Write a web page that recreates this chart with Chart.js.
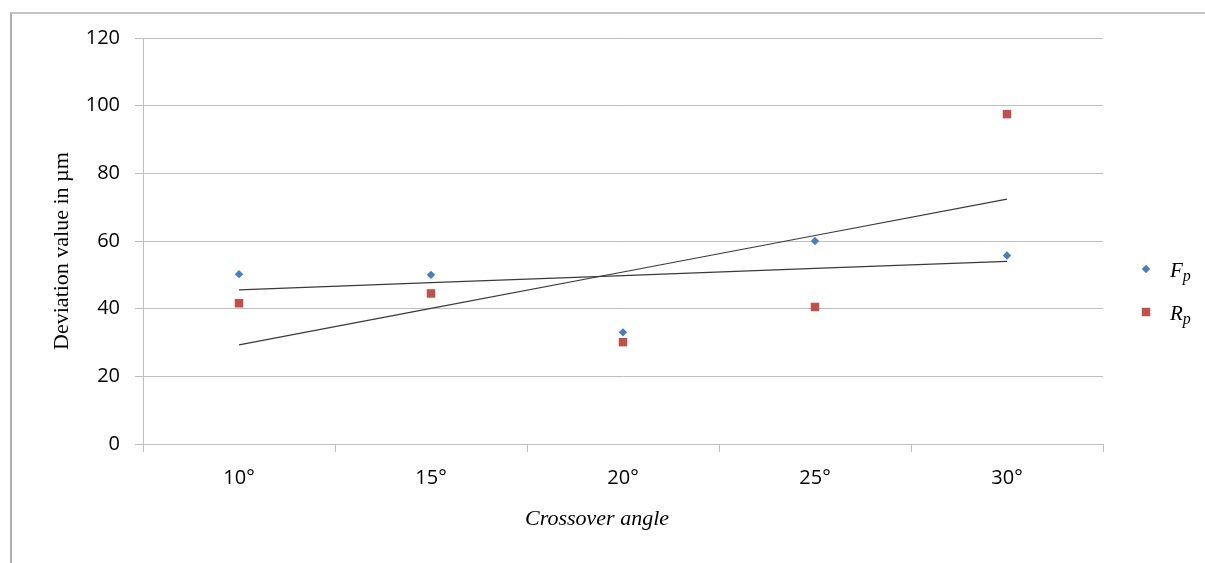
<!DOCTYPE html>
<html>
<head>
<meta charset="utf-8">
<title>Deviation vs crossover angle</title>
<script src="https://cdn.jsdelivr.net/npm/chart.js@4/dist/chart.umd.min.js"></script>
<style>
  html, body { margin: 0; padding: 0; background: #fff; }
  #wrap { position: relative; width: 1205px; height: 563px; overflow: hidden; }
  #frame {
    position: absolute; left: 10px; top: 12px; right: 0; bottom: 0;
    border-top: 2px solid #c4c4c4; border-left: 2px solid #b0b0b0;
  }
  #chart { position: absolute; left: 0; top: 0; }
</style>
</head>
<body>
<div id="wrap">
  <div id="frame"></div>
  <canvas id="chart" width="1205" height="563"></canvas>
</div>
<script>
// Crossover angle categories
const angles = ['10°', '15°', '20°', '25°', '30°'];
// Measured deviations in µm
const fpValues = [50.2, 50.0, 33.0, 60.0, 55.7];
const rpValues = [41.6, 44.5, 30.1, 40.5, 97.5];
const yTicks = [0, 20, 40, 60, 80, 100, 120];

const xTitle = 'Crossover angle';
const yTitle = 'Deviation value in µm';

const fpColor = '#4a7ebb';
const rpColor = '#c0504d';
const trendColor = '#3a3a3a';
const gridColor = '#bfbfbf';
const serif = '"Liberation Serif", "Times New Roman", serif';

// Least-squares line through the points (x = 1..n)
function linearTrend(values) {
    const n = values.length;
    let sx = 0, sy = 0, sxy = 0, sxx = 0;
    values.forEach((v, i) => {
        const x = i + 1;
        sx += x; sy += v; sxy += x * v; sxx += x * x;
    });
    const slope = (n * sxy - sx * sy) / (n * sxx - sx * sx);
    const icpt = (sy - slope * sx) / n;
    return values.map((_, i) => icpt + slope * (i + 1));
}

// Axis titles, placed like the old spreadsheet layout (slightly off-centre)
const axisTitles = {
    id: 'axisTitles',
    afterDraw(chart) {
        const ctx = chart.ctx;
        const area = chart.chartArea;
        ctx.save();
        ctx.fillStyle = '#000';
        ctx.textAlign = 'center';
        ctx.textBaseline = 'middle';

        ctx.font = 'italic 22px ' + serif;
        ctx.fillText(xTitle, (area.left + area.right) / 2 - 26, 519);

        ctx.font = '22px ' + serif;
        ctx.translate(62, (area.top + area.bottom) / 2 + 10);
        ctx.rotate(-Math.PI / 2);
        ctx.fillText(yTitle, 0, 0);
        ctx.restore();
    }
};

// Legend drawn to the right of the plot, with subscripts
const subLegend = {
    id: 'subLegend',
    afterDraw(chart) {
        const ctx = chart.ctx;
        const area = chart.chartArea;
        const x = area.right + 43;
        let y = area.top + 231;
        chart.data.datasets.forEach(ds => {
            if (!ds.legendMain) return;
            ctx.save();
            ctx.fillStyle = ds.pointBackgroundColor;
            Chart.helpers.drawPoint(ctx, {
                pointStyle: ds.pointStyle, radius: ds.pointRadius, rotation: 0, borderWidth: 0
            }, x, y);
            ctx.fillStyle = '#000';
            ctx.textBaseline = 'alphabetic';
            ctx.font = 'italic 21px ' + serif;
            ctx.fillText(ds.legendMain, x + 24, y + 8);
            const w = ctx.measureText(ds.legendMain).width;
            ctx.font = 'italic 16px ' + serif;
            ctx.fillText(ds.legendSub, x + 24 + w, y + 12);
            ctx.restore();
            y += 43;
        });
    }
};

const ctx = document.getElementById('chart').getContext('2d');
window.deviationChart = new Chart(ctx, {
    type: 'line',
    data: {
        labels: angles,
        datasets: [
            {
                label: 'Fp',
                legendMain: 'F', legendSub: 'p',
                data: fpValues,
                showLine: false,
                pointStyle: 'rectRot',
                pointRadius: 4.2,
                pointBackgroundColor: fpColor,
                pointBorderColor: fpColor,
                pointBorderWidth: 0
            },
            {
                label: 'Rp',
                legendMain: 'R', legendSub: 'p',
                data: rpValues,
                showLine: false,
                pointStyle: 'rect',
                pointRadius: 6,
                pointBackgroundColor: rpColor,
                pointBorderColor: rpColor,
                pointBorderWidth: 0
            },
            {
                label: 'Fp trend',
                data: linearTrend(fpValues),
                borderColor: trendColor,
                borderWidth: 1.2,
                pointRadius: 0,
                fill: false
            },
            {
                label: 'Rp trend',
                data: linearTrend(rpValues),
                borderColor: trendColor,
                borderWidth: 1.2,
                pointRadius: 0,
                fill: false
            }
        ]
    },
    options: {
        responsive: false,
        animation: false,
        layout: { padding: { top: 38, right: 102, bottom: 0, left: 0 } },
        plugins: {
            legend: { display: false },
            tooltip: { enabled: false }
        },
        scales: {
            x: {
                offset: true,
                grid: {
                    offset: true,
                    drawOnChartArea: false,
                    tickLength: 8,
                    color: gridColor
                },
                border: { color: gridColor },
                ticks: {
                    color: '#000',
                    padding: 14,
                    font: { family: '"Open Sans", sans-serif', size: 20 }
                },
                afterFit(scale) { scale.height = 119; }
            },
            y: {
                min: 0,
                max: 120,
                afterBuildTicks(scale) { scale.ticks = yTicks.map(v => ({ value: v })); },
                grid: { color: gridColor, tickLength: 8 },
                border: { color: gridColor },
                ticks: {
                    color: '#000',
                    padding: 15,
                    font: { family: '"Open Sans", sans-serif', size: 20 }
                },
                afterFit(scale) { scale.width = 143; }
            }
        }
    },
    plugins: [axisTitles, subLegend]
});
</script>
</body>
</html>
